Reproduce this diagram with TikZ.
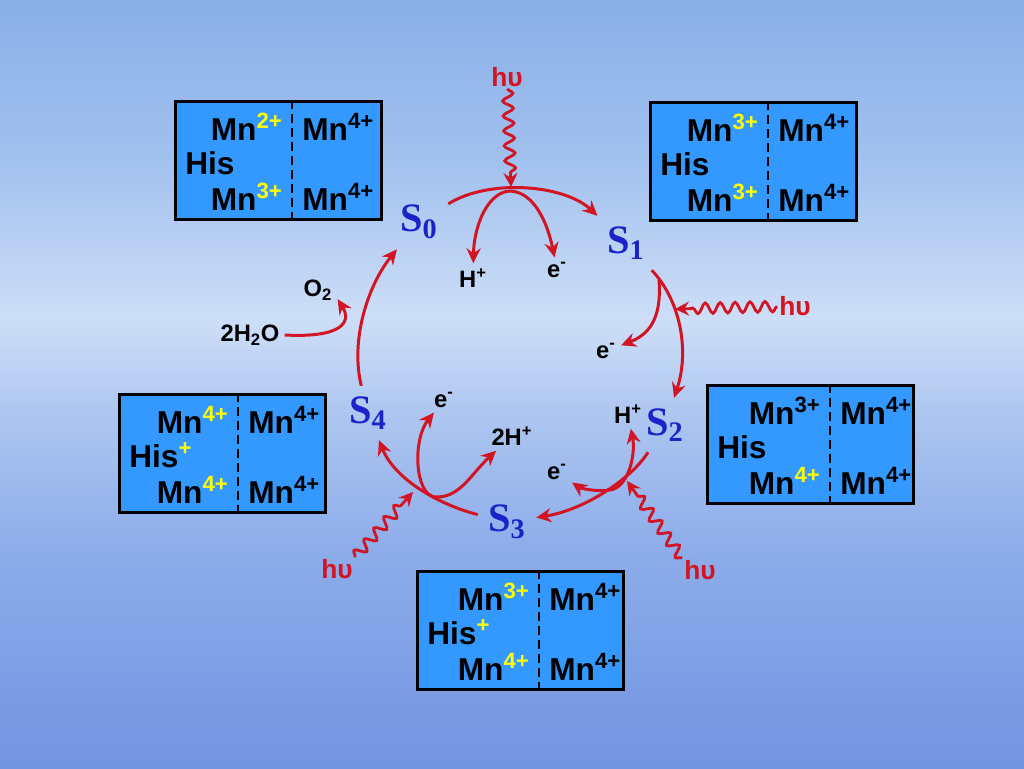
\documentclass[tikz,border=0pt]{standalone}
\usepackage{fontspec}
\setmainfont{Liberation Sans}
\newfontfamily\statefont{Liberation Serif}
\usetikzlibrary{arrows.meta,decorations.pathmorphing}

\definecolor{boxblue}{RGB}{51,153,255}
\definecolor{ionyellow}{RGB}{255,255,0}
\definecolor{arrowred}{RGB}{210,20,35}
\definecolor{stateblue}{RGB}{25,35,200}
\definecolor{skytop}{RGB}{138,175,232}
\definecolor{skyhigh}{RGB}{160,192,238}
\definecolor{skylight}{RGB}{205,222,247}
\definecolor{skymid}{RGB}{172,197,240}
\definecolor{skylow}{RGB}{140,172,234}
\definecolor{skybot}{RGB}{115,148,225}

\pgfdeclareverticalshading{sky}{100bp}{color(0bp)=(skybot); color(25bp)=(skybot); color(39bp)=(skylow); color(47.7bp)=(skymid); color(54.2bp)=(skylight); color(65bp)=(skyhigh); color(75bp)=(skytop); color(100bp)=(skytop)}

\newcommand{\ion}[1]{\textsuperscript{\color{ionyellow}#1}}
\newcommand{\blk}[1]{\textsuperscript{#1}}

% #1 name, #2 left, #3 top, #4 divider, #5/#6 left charges, #7 His charge
\newcommand{\mnbox}[7]{%
  \node[mnbox] (#1) at (#2+104.5,#3+60.5) {};
  \coordinate (#1-d) at (#4,#3);
  \draw[divider] (#1-d |- #1.north) -- (#1-d |- #1.south);
  \node[mntext, anchor=base east] (#1-tl) at (#4-9,#3+40) {Mn#5};
  \node[mntext, anchor=base west] (#1-tr) at (#4+10,#3+40) {Mn\blk{4+}};
  \node[mntext, anchor=base west] (#1-his) at (#2+11,#3+74) {His#7};
  \node[mntext, anchor=base east] (#1-bl) at (#4-9,#3+110) {Mn#6};
  \node[mntext, anchor=base west] (#1-br) at (#4+10,#3+110) {Mn\blk{4+}};
}

\begin{document}
\begin{tikzpicture}[x=0.02cm, y=-0.02cm,
  mnbox/.style={draw=black, line width=1.7pt, fill=boxblue, minimum width=4.12cm, minimum height=2.36cm, inner sep=0pt},
  divider/.style={line width=1.1pt, dash pattern=on 5pt off 3pt},
  mntext/.style={font=\fontsize{18}{21}\selectfont\bfseries, inner sep=0pt},
  state/.style={font=\statefont\fontsize{23}{27}\selectfont\bfseries, text=stateblue, inner sep=2pt, outer sep=4pt},
  species/.style={font=\fontsize{13.5}{16}\selectfont\bfseries, inner sep=1pt, outer sep=2pt},
  light/.style={font=\fontsize{15}{18}\selectfont\bfseries, text=arrowred, inner sep=1pt},
  cycarrow/.style={draw=arrowred, line width=1.7pt, -{Stealth[length=8.5pt,width=8pt,inset=2.8pt]}},
  photon/.style={draw=arrowred, line width=1.6pt, decorate, decoration={snake, amplitude=3pt, segment length=8.5pt, post length=7pt}, -{Stealth[length=8pt,width=8pt,inset=2.8pt]}}
]

\shade[shading=sky] (0,0) rectangle (1024,768);
\useasboundingbox (0,0) rectangle (1024,768);

% manganese cluster boxes
\mnbox{box0}{174}{100}{292}{\ion{2+}}{\ion{3+}}{}
\mnbox{box1}{649}{101}{768}{\ion{3+}}{\ion{3+}}{}
\mnbox{box2}{706}{384}{830}{\blk{3+}}{\ion{4+}}{}
\mnbox{box3}{416}{570}{539}{\ion{3+}}{\ion{4+}}{\ion{+}}
\mnbox{box4}{118}{393}{238}{\ion{4+}}{\ion{4+}}{\ion{+}}

% S states
\node[state] (s0) at (419,222) {S\textsubscript{0}};
\node[state] (s1) at (626,243) {S\textsubscript{1}};
\node[state] (s2) at (665,425) {S\textsubscript{2}};
\node[state] (s3) at (507,522) {S\textsubscript{3}};
\node[state] (s4) at (368,413) {S\textsubscript{4}};

% products and light
\node[species] (hp0) at (473,278) {H\textsuperscript{+}};
\node[species] (em0) at (557,270) {e\textsuperscript{-}};
\node[species] (em1) at (606,351) {e\textsuperscript{-}};
\node[species] (hp2) at (628,414) {H\textsuperscript{+}};
\node[species] (em2) at (557,472) {e\textsuperscript{-}};
\node[species] (em3) at (444,400) {e\textsuperscript{-}};
\node[species] (hp3) at (512,436) {2H\textsuperscript{+}};
\node[species] (o2) at (318,290) {O\textsubscript{2}};
\node[species] (h2o) at (250,335) {2H\textsubscript{2}O};

\node[light] (hv0) at (507,77) {hυ};
\node[light] (hv1) at (795,306) {hυ};
\node[light] (hv2) at (700,570) {hυ};
\node[light] (hv3) at (337,569) {hυ};

\coordinate (t0) at (510,191);
\coordinate (p0) at (511,187);
\coordinate (b1) at (659,280);
\coordinate (a1) at (675,309);
\coordinate (b2) at (610,490);
\coordinate (a2) at (627,481);
\coordinate (b3) at (435,497);
\coordinate (a3) at (413,492);

% cycle
\draw[cycarrow] (s0) .. controls (490,178) and (565,185) .. (s1);
\draw[cycarrow] (s1) .. controls (680,300) and (690,350) .. (s2);
\draw[cycarrow] (s2) .. controls (632,478) and (585,510) .. (s3);
\draw[cycarrow] (s3) .. controls (440,505) and (395,480) .. (s4);
\draw[cycarrow] (s4) .. controls (350,340) and (368,285) .. (s0);

% branches
\draw[cycarrow] (t0) .. controls (488,192) and (474,225) .. (hp0);
\draw[cycarrow] (t0) .. controls (535,192) and (548,225) .. (em0);
\draw[cycarrow] (b1) .. controls (662,320) and (648,335) .. (em1);
\draw[cycarrow] (b2) .. controls (595,492) and (580,488) .. (em2);
\draw[cycarrow] (b2) .. controls (628,488) and (636,455) .. (hp2);
\draw[cycarrow] (b3) .. controls (415,495) and (412,440) .. (em3);
\draw[cycarrow] (b3) .. controls (460,498) and (470,475) .. (hp3);
\draw[cycarrow] (h2o.east) .. controls (342,338) and (352,322) .. (o2.-25);

% light
\draw[photon] (hv0) -- (p0);
\draw[photon] (hv1) -- (a1);
\draw[photon] (hv2.north west) -- (a2);
\draw[photon] (hv3.north east) -- (a3);

\end{tikzpicture}
\end{document}
